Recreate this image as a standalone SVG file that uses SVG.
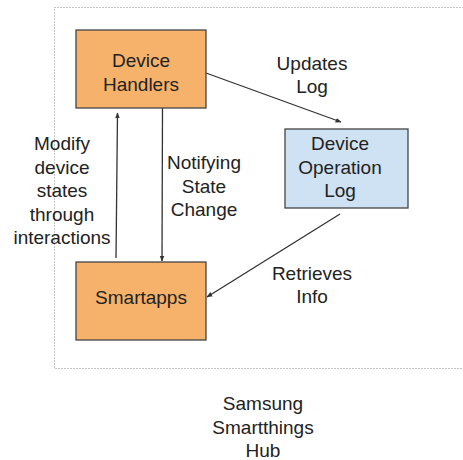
<svg xmlns="http://www.w3.org/2000/svg" width="463" height="460" viewBox="0 0 463 460">
<style>
text{font-family:"Liberation Sans",Arial,sans-serif;font-size:19px;fill:#222;text-anchor:middle}
.box{stroke:#444;stroke-width:1.3}
.orange{fill:#f6b26b}
.blue{fill:#cfe2f3}
.conn{stroke:#333;stroke-width:1.3;fill:none}
</style>
<defs>
<marker id="ah" viewBox="0 0 10 10" refX="9" refY="5" markerWidth="6" markerHeight="6" orient="auto-start-reverse" markerUnits="userSpaceOnUse">
<path d="M0,1 L10,5 L0,9 Z" fill="#333"/>
</marker>
</defs>
<rect id="hub" x="54.5" y="7.5" width="440" height="361" fill="none" stroke="#888" stroke-width="1" stroke-dasharray="1,2"/>
<g id="connectors">
<line class="conn" x1="206" y1="73" x2="341" y2="122" marker-end="url(#ah)"/>
<line class="conn" x1="340" y1="214" x2="207" y2="297" marker-end="url(#ah)"/>
<line class="conn" x1="116" y1="258" x2="117.5" y2="113" marker-end="url(#ah)"/>
<line class="conn" x1="162.5" y1="108" x2="162" y2="261" marker-end="url(#ah)"/>
</g>
<g id="device-handlers">
<rect class="box orange" x="76" y="30" width="130" height="78"/>
<text x="141" y="67">Device</text>
<text x="141" y="90.5">Handlers</text>
</g>
<g id="device-operation-log">
<rect class="box blue" x="285" y="129" width="123" height="79"/>
<text x="340" y="150">Device</text>
<text x="340" y="173.5">Operation</text>
<text x="340" y="197">Log</text>
</g>
<g id="smartapps">
<rect class="box orange" x="76" y="262" width="130" height="78"/>
<text x="141" y="304">Smartapps</text>
</g>
<g id="labels">
<text x="312" y="70">Updates</text>
<text x="312" y="93">Log</text>
<text x="62" y="150">Modify</text>
<text x="62" y="173.5">device</text>
<text x="62" y="197">states</text>
<text x="62" y="220.5">through</text>
<text x="62" y="244">interactions</text>
<text x="204" y="169">Notifying</text>
<text x="204" y="192.5">State</text>
<text x="204" y="216">Change</text>
<text x="312" y="280">Retrieves</text>
<text x="312" y="303">Info</text>
<text x="263" y="410">Samsung</text>
<text x="263" y="433.5">Smartthings</text>
<text x="263" y="457">Hub</text>
</g>
</svg>
